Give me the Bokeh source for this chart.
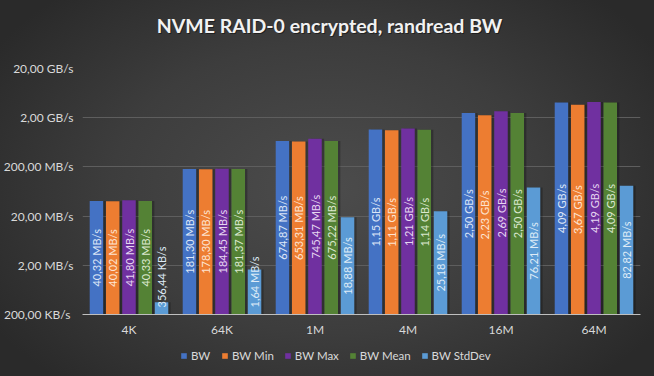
import math
from bokeh.plotting import figure
from bokeh.layouts import column
from bokeh.models import (ColumnDataSource, FixedTicker, Legend, LegendItem, Range1d,
                          Label, FactorRange)
from bokeh.transform import dodge
from bokeh.core.properties import value
from bokeh.embed import file_html
from bokeh.resources import INLINE

# ---------------- data (MB/s) ----------------
categories = ["4K", "64K", "1M", "4M", "16M", "64M"]
series_names = ["BW", "BW Min", "BW Max", "BW Mean", "BW StdDev"]

bw = [40.32, 181.30, 674.87, 1150, 2500, 4090]
bw_min = [40.02, 178.30, 653.31, 1110, 2230, 3670]
bw_max = [41.80, 184.45, 745.47, 1210, 2690, 4190]
bw_mean = [40.33, 181.37, 675.22, 1140, 2500, 4090]
bw_std = [0.35644, 1.64, 18.88, 25.18, 76.21, 82.82]

lbl_bw = ["40,32 MB/s", "181,30 MB/s", "674,87 MB/s", "1,15 GB/s", "2,50 GB/s", "4,09 GB/s"]
lbl_min = ["40,02 MB/s", "178,30 MB/s", "653,31 MB/s", "1,11 GB/s", "2,23 GB/s", "3,67 GB/s"]
lbl_max = ["41,80 MB/s", "184,45 MB/s", "745,47 MB/s", "1,21 GB/s", "2,69 GB/s", "4,19 GB/s"]
lbl_mean = ["40,33 MB/s", "181,37 MB/s", "675,22 MB/s", "1,14 GB/s", "2,50 GB/s", "4,09 GB/s"]
lbl_std = ["356,44  KB/s", "1,64 MB/s", "18,88 MB/s", "25,18 MB/s", "76,21 MB/s", "82,82 MB/s"]

tick_values = [0.2, 2, 20, 200, 2000, 20000]
tick_labels = ["200,00  KB/s", "2,00 MB/s", "20,00 MB/s", "200,00 MB/s", "2,00 GB/s", "20,00 GB/s"]

title_text = "NVME RAID-0 encrypted, randread BW"

# ---------------- styling ----------------
FONT = "Lato"
colors = ["#4472C4", "#ED7D31", "#7030A0", "#548235", "#5B9BD5"]
label_colors = ["#dce6f7", "#fde4d2", "#e6d6f0", "#dbe8cf", "#deebf7"]
offsets = [-0.35, -0.175, 0.0, 0.175, 0.35]
BAR_W = 0.145
Y_MIN, Y_MAX = tick_values[0], tick_values[-1]
FRAME_H = 246
FRAME_LEFT = 80
DEC_PX = FRAME_H / math.log10(Y_MAX / Y_MIN)


def strip(height, x_range=None, y_range=None):
    f = figure(
        width=654, height=height,
        x_range=x_range if x_range is not None else Range1d(0, 1),
        y_range=y_range if y_range is not None else Range1d(0, 1),
        output_backend="svg", toolbar_location=None,
        x_axis_location=None, y_axis_location=None,
        min_border=0, min_border_left=0, min_border_right=0,
        min_border_top=0, min_border_bottom=0,
        background_fill_alpha=0, border_fill_alpha=0,
        outline_line_color=None,
    )
    f.xgrid.visible = False
    f.ygrid.visible = False
    return f


# ---------------- title strip (column aligns its frame with the chart's) ----------------
p0 = strip(40)
p0.add_layout(Label(x=328 - FRAME_LEFT, y=14, x_units="screen", y_units="screen",
                    text=title_text, text_align="center", text_baseline="middle",
                    text_font=FONT, text_font_size="19.5px", text_font_style="bold",
                    text_color="black", text_alpha=0.45))
p0.add_layout(Label(x=327 - FRAME_LEFT, y=15, x_units="screen", y_units="screen",
                    text=title_text, text_align="center", text_baseline="middle",
                    text_font=FONT, text_font_size="19.5px", text_font_style="bold",
                    text_color="#f2f2f2"))

# ---------------- main chart ----------------
p = figure(
    width=654, height=302,
    x_range=categories,
    y_range=Range1d(Y_MIN, Y_MAX),
    y_axis_type="log",
    output_backend="svg",
    toolbar_location=None,
    min_border_left=FRAME_LEFT, min_border_right=14,
    min_border_top=28, min_border_bottom=28,
    background_fill_alpha=0, border_fill_alpha=0,
    outline_line_color=None,
)

values_all = [bw, bw_min, bw_max, bw_mean, bw_std]
labels_all = [lbl_bw, lbl_min, lbl_max, lbl_mean, lbl_std]
sources = []

for i, name in enumerate(series_names):
    vals = values_all[i]
    labs = labels_all[i]
    yc_c, x_c, t_c = [], [], []
    yc_b, x_b, t_b = [], [], []
    for c, v, t in zip(categories, vals, labs):
        bar_px = math.log10(v / Y_MIN) * DEC_PX
        text_px = len(t) * 5.6
        if bar_px >= text_px + 10:
            x_c.append(c); t_c.append(t); yc_c.append(math.sqrt(v * Y_MIN))
        else:
            x_b.append(c); t_b.append(t); yc_b.append(Y_MIN * 10 ** (7 / DEC_PX))
    src = ColumnDataSource(dict(cat=categories, val=vals, base=[Y_MIN] * len(vals)))
    sources.append(src)
    p.vbar(x=dodge("cat", offsets[i] + 0.025, range=p.x_range), top="val", bottom="base",
           width=BAR_W, source=src, fill_color="black", fill_alpha=0.25, line_color=None)
    p.vbar(x=dodge("cat", offsets[i], range=p.x_range), top="val", bottom="base",
           width=BAR_W, source=src, fill_color=colors[i], line_color=None)
    sc = ColumnDataSource(dict(cat=x_c, ly=yc_c, lab=t_c))
    p.text(x=dodge("cat", offsets[i], range=p.x_range), y="ly", text="lab", source=sc,
           angle=math.pi / 2, text_align="center", text_baseline="middle",
           text_font=value(FONT), text_font_size="11px", text_color=label_colors[i])
    if x_b:
        sb = ColumnDataSource(dict(cat=x_b, ly=yc_b, lab=t_b))
        p.text(x=dodge("cat", offsets[i], range=p.x_range), y="ly", text="lab", source=sb,
               angle=math.pi / 2, text_align="left", text_baseline="middle",
               text_font=value(FONT), text_font_size="11px", text_color=label_colors[i])

# axes
p.yaxis.ticker = FixedTicker(ticks=tick_values)
p.yaxis.major_label_overrides = {v: t for v, t in zip(tick_values, tick_labels)}
p.yaxis.axis_line_color = None
p.yaxis.major_tick_line_color = None
p.yaxis.minor_tick_line_color = None
p.yaxis.major_tick_out = 0
p.yaxis.major_tick_in = 0
p.yaxis.minor_tick_out = 0
p.yaxis.major_label_standoff = 9
p.yaxis.major_label_text_color = "#d9d9d9"
p.yaxis.major_label_text_font = FONT
p.yaxis.major_label_text_font_size = "12px"

p.xaxis.axis_line_color = "#bfbfbf"
p.xaxis.axis_line_width = 1
p.xaxis.major_tick_line_color = None
p.xaxis.minor_tick_line_color = None
p.xaxis.major_tick_out = 0
p.xaxis.major_tick_in = 0
p.xaxis.major_label_standoff = 7
p.xaxis.major_label_text_color = "#d9d9d9"
p.xaxis.major_label_text_font = FONT
p.xaxis.major_label_text_font_size = "12px"

p.xgrid.grid_line_color = None
p.ygrid.grid_line_color = "#5e5e5e"
p.ygrid.grid_line_width = 1
p.ygrid.minor_grid_line_color = None

# ---------------- legend strip ----------------
# legend renderers share the real data but lie far outside this strip's visible range
p2 = strip(34, x_range=FactorRange(*categories), y_range=Range1d(1e6, 2e6))
legend_items = []
for i, name in enumerate(series_names):
    r = p2.vbar(x=dodge("cat", offsets[i], range=p2.x_range), top="val", bottom="base",
                width=BAR_W, source=sources[i], fill_color=colors[i], line_color=None)
    legend_items.append(LegendItem(label=name, renderers=[r]))
legend = Legend(items=legend_items, orientation="horizontal", location=(174 - FRAME_LEFT, 10),
                background_fill_alpha=0, border_line_alpha=0,
                label_text_color="#d9d9d9", label_text_font=FONT,
                label_text_font_size="11.5px", glyph_width=7, glyph_height=7,
                label_standoff=4, spacing=10, padding=4, margin=0)
p2.add_layout(legend, "center")

layout = column(
    p0, p, p2, spacing=0,
    styles={"background": "radial-gradient(ellipse 60% 70% at 50% 50%, #4c4c4c 0%, #3d3d3d 55%, #2a2a2a 100%)"},
)

open("out.html", "w").write(file_html(layout, INLINE))
